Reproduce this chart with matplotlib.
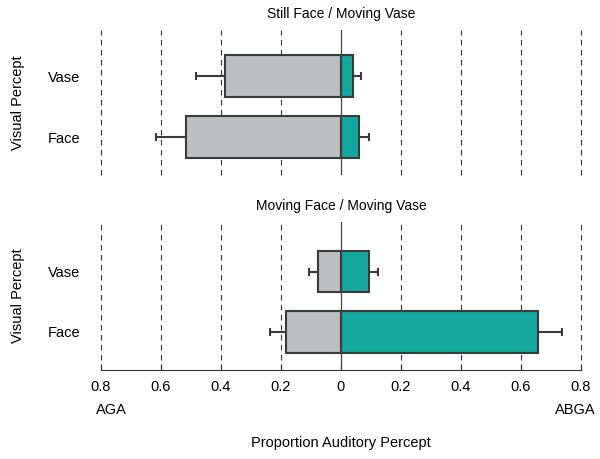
import numpy as np
import matplotlib.pyplot as plt

plt.rcParams['font.family'] = ['Liberation Sans', 'DejaVu Sans']

# data =========================
percepts = ['Face', 'Vase']
titles = ['Still Face / Moving Vase', 'Moving Face / Moving Vase']
# proportion of AGA responses (plotted to the left) and ABGA (to the right)
aga = [[0.517, 0.387], [0.182, 0.078]]
aga_err = [[0.098, 0.097], [0.055, 0.030]]
abga = [[0.059, 0.040], [0.658, 0.092]]
abga_err = [[0.033, 0.027], [0.078, 0.030]]
ticks = [-0.8, -0.6, -0.4, -0.2, 0, 0.2, 0.4, 0.6, 0.8]

gray = '#bdbec0'
teal = '#13a89e'
edge = '#3a3a3a'

fig = plt.figure(figsize=(6, 4.59), dpi=100)
ax_top = fig.add_axes([0.1683, 0.6187, 0.8, 0.3159])
ax_bot = fig.add_axes([0.1683, 0.1939, 0.8, 0.3224])
ylims = [(-0.623, 1.754), (-0.63, 1.82)]

for i, ax in enumerate([ax_top, ax_bot]):
    y = np.arange(len(percepts))
    left = -np.array(aga[i])
    right = np.array(abga[i])
    for t in ticks:
        if t == 0:
            ax.axvline(0, color='#444444', lw=0.9, zorder=3)
        else:
            ax.axvline(t, color='#333333', lw=0.8, ls=(0, (5, 4)), zorder=0,
                       clip_on=False)
    ax.errorbar(left, y, xerr=[aga_err[i], np.zeros(2)], fmt='none',
                ecolor=edge, elinewidth=1.5, capsize=3, capthick=1.5, zorder=1)
    ax.errorbar(right, y, xerr=[np.zeros(2), abga_err[i]], fmt='none',
                ecolor=edge, elinewidth=1.5, capsize=3, capthick=1.5, zorder=1)
    ax.barh(y, left, height=0.69, color=gray, edgecolor=edge, lw=1.5, zorder=2)
    ax.barh(y, right, height=0.69, color=teal, edgecolor=edge, lw=1.5, zorder=2)
    ax.set_xlim(-0.8, 0.8)
    ax.set_ylim(*ylims[i])
    ax.set_yticks(y)
    ax.set_yticklabels(percepts, fontsize=10.5)
    ax.tick_params(axis='y', length=0, pad=15)
    ax.set_ylabel('Visual Percept', fontsize=10.5)
    ax.yaxis.set_label_coords(-0.158, 0.5)
    ax.set_title(titles[i], fontsize=10, pad=9)
    for s in ['top', 'right', 'left']:
        ax.spines[s].set_visible(False)

ax_top.spines['bottom'].set_visible(False)
ax_top.set_xticks([])
ax_bot.set_xticks(ticks)
ax_bot.set_xticklabels(['%g' % abs(t) for t in ticks], fontsize=10.5)
ax_bot.spines['bottom'].set_color('#333333')
ax_bot.tick_params(axis='x', direction='in', length=4, pad=7, color='#333333')

fig.text(111 / 600, 1 - 410 / 459, 'AGA', ha='center', va='center', fontsize=10.5)
fig.text(575 / 600, 1 - 410 / 459, 'ABGA', ha='center', va='center', fontsize=10.5)
fig.text(341 / 600, 1 - 443 / 459, 'Proportion Auditory Percept',
         ha='center', va='center', fontsize=10.5)

fig.savefig('out.png', dpi=100)
